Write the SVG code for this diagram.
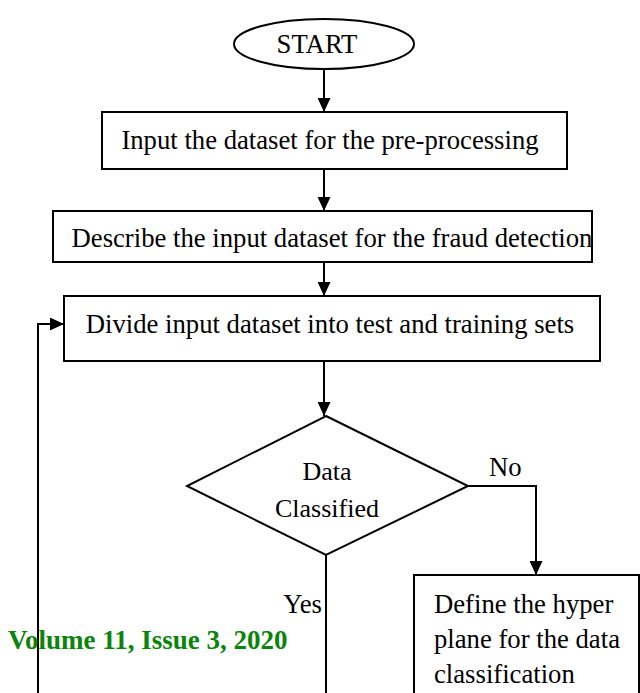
<svg xmlns="http://www.w3.org/2000/svg" width="640" height="693" viewBox="0 0 640 693">
<style>
.s{fill:#fff;stroke:#000;stroke-width:2}
.t{font-family:"Liberation Serif","Times New Roman",serif;font-size:26.7px;fill:#000}
.c{text-anchor:middle}
.l{fill:none;stroke:#000;stroke-width:2}
</style>
<defs>
<marker id="b" markerWidth="14" markerHeight="13" refX="14" refY="6.5" orient="auto" markerUnits="userSpaceOnUse" viewBox="0 0 14 13">
<path d="M0,0 L14,6.5 L0,13 Z" fill="#000"/>
</marker>
</defs>
<rect width="640" height="693" fill="#fff"/>
<g id="connectors">
<line class="l" x1="324" y1="69" x2="324" y2="112" marker-end="url(#b)"/>
<line class="l" x1="324" y1="169" x2="324" y2="211" marker-end="url(#b)"/>
<line class="l" x1="324" y1="262" x2="324" y2="296" marker-end="url(#b)"/>
<line class="l" x1="324" y1="361" x2="324" y2="416" marker-end="url(#b)"/>
<polyline class="l" points="468,486 536,486 536,575" marker-end="url(#b)"/>
<line class="l" x1="326" y1="555" x2="326" y2="693"/>
<polyline class="l" points="38,693 38,324 64,324" marker-end="url(#b)"/>
</g>
<g id="start">
<ellipse class="s" cx="324" cy="44" rx="90" ry="25"/>
<text class="t c" x="317" y="53">START</text>
</g>
<g id="input">
<rect class="s" x="102" y="112" width="465" height="57"/>
<text class="t c" x="330" y="149">Input the dataset for the pre-processing</text>
</g>
<g id="describe">
<rect class="s" x="53" y="211" width="539" height="51"/>
<text class="t c" x="332" y="247">Describe the input dataset for the fraud detection</text>
</g>
<g id="divide">
<rect class="s" x="64" y="296" width="536" height="65"/>
<text class="t c" x="330" y="333">Divide input dataset into test and training sets</text>
</g>
<g id="decision">
<polygon class="s" points="326,416 468,486 326,555 187,486"/>
<text class="t c" x="327" y="480" style="font-size:26px">Data</text>
<text class="t c" x="327" y="517" style="font-size:26px">Classified</text>
</g>
<g id="define">
<rect class="s" x="414" y="575" width="225" height="130"/>
<text class="t" x="434" y="613">Define the hyper</text>
<text class="t" x="434" y="648">plane for the data</text>
<text class="t" x="434" y="683">classification</text>
</g>
<g id="labels">
<text class="t" x="489" y="476">No</text>
<text class="t" x="322" y="613" text-anchor="end">Yes</text>
<text x="8" y="649" style="font-family:'Liberation Serif','Times New Roman',serif;font-size:27px;font-weight:bold;fill:#0a840a">Volume 11, Issue 3, 2020</text>
</g>
</svg>
